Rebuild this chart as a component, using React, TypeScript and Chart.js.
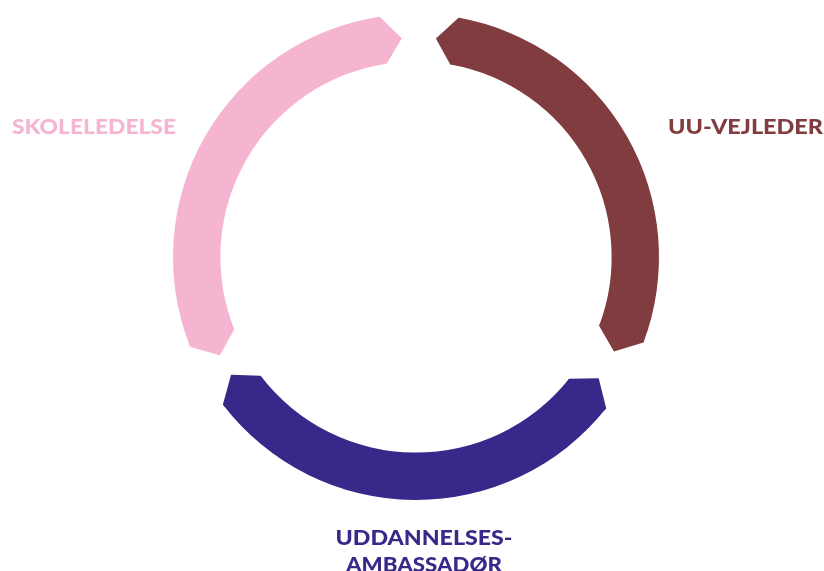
import React, { useEffect, useRef } from "react";
import { Chart, registerables } from "chart.js";

Chart.register(...registerables);

// Segments (degrees of ring), in clockwise order starting at the top
const categories = ["UU-VEJLEDER", "UDDANNELSES-AMBASSADØR", "SKOLELEDELSE"];
const labelLines = [["UU-VEJLEDER"], ["UDDANNELSES-", "AMBASSADØR"], ["SKOLELEDELSE"]];
const spans = [100.3, 103.9, 102.9];
const gaps = [18.1, 15.9, 18.9];
const colors = ["#813c3f", "#37288a", "#f5b5d1"];
const startRotation = 10.2;

// label anchor (left x, baseline y of first line) and target width per line
const labelPos = [
  { x: 668, y: 134, widths: [155] },
  { x: 424, y: 545, widths: [177, 156], center: true },
  { x: 12, y: 134, widths: [164] },
];

const tipDeg = 5;

const tipsAndLabels = {
  id: "tipsAndLabels",
  afterDatasetsDraw(chart: any) {
    const ctx = chart.ctx;
    const meta = chart.getDatasetMeta(0);
    const tip = (tipDeg * Math.PI) / 180;
    meta.data.forEach((arc: any, i: number) => {
      if (i % 2 === 1) return;
      const k = i / 2;
      const p = arc.getProps(["x", "y", "startAngle", "endAngle", "innerRadius", "outerRadius"], true);
      const mid = (p.innerRadius + p.outerRadius) / 2;
      const pt = (a: number, r: number) => [p.x + Math.cos(a) * r, p.y + Math.sin(a) * r];
      ctx.save();
      ctx.fillStyle = colors[k];
      const draw = (a: number, dir: number) => {
        const o = pt(a + dir * 0.002, p.outerRadius);
        const m = pt(a + dir * tip, mid);
        const n = pt(a + dir * 0.002, p.innerRadius);
        const o2 = pt(a - dir * 0.01, p.outerRadius);
        const n2 = pt(a - dir * 0.01, p.innerRadius);
        ctx.beginPath();
        ctx.moveTo(o2[0], o2[1]);
        ctx.lineTo(o[0], o[1]);
        ctx.lineTo(m[0], m[1]);
        ctx.lineTo(n[0], n[1]);
        ctx.lineTo(n2[0], n2[1]);
        ctx.closePath();
        ctx.fill();
      };
      draw(p.startAngle, -1);
      draw(p.endAngle, 1);
      ctx.restore();
    });

    // labels
    categories.forEach((_, k) => {
      const pos: any = labelPos[k];
      labelLines[k].forEach((line, j) => {
        ctx.save();
        ctx.font = "900 21px Lato, 'Open Sans', sans-serif";
        ctx.fillStyle = colors[k];
        ctx.textBaseline = "alphabetic";
        const w = ctx.measureText(line).width;
        const target = pos.widths[j];
        const sx = target / w;
        const y = pos.y + j * 27;
        const x = pos.center ? pos.x - target / 2 : pos.x;
        ctx.translate(x, y);
        ctx.scale(sx, 1);
        ctx.textAlign = "left";
        ctx.fillText(line, 0, 0);
        ctx.restore();
      });
    });
  },
};

export default function App() {
  const ref = useRef<HTMLCanvasElement | null>(null);
  useEffect(() => {
    if (!ref.current) return;
    const data: number[] = [];
    const bg: string[] = [];
    const labels: string[] = [];
    spans.forEach((s, i) => {
      data.push(s, gaps[i]);
      bg.push(colors[i], "rgba(0,0,0,0)");
      labels.push(categories[i], "");
    });
    const chart = new Chart(ref.current, {
      type: "doughnut",
      data: {
        labels,
        datasets: [
          {
            data,
            backgroundColor: bg,
            borderWidth: 0,
            hoverOffset: 0,
            offset: 0,
          } as any,
        ],
      },
      options: {
        responsive: false,
        animation: false,
        rotation: startRotation,
        cutout: "80.5%",
        layout: { padding: { left: 8, right: 0, top: 14, bottom: 71 } },
        plugins: { legend: { display: false }, tooltip: { enabled: false } },
        events: [],
      } as any,
      plugins: [tipsAndLabels],
    });
    return () => chart.destroy();
  }, []);
  return (
    <div style={{ position: "absolute", left: 0, top: 0, width: 824, height: 571, background: "#fff" }}>
      <canvas ref={ref} width={824} height={571} />
    </div>
  );
}
